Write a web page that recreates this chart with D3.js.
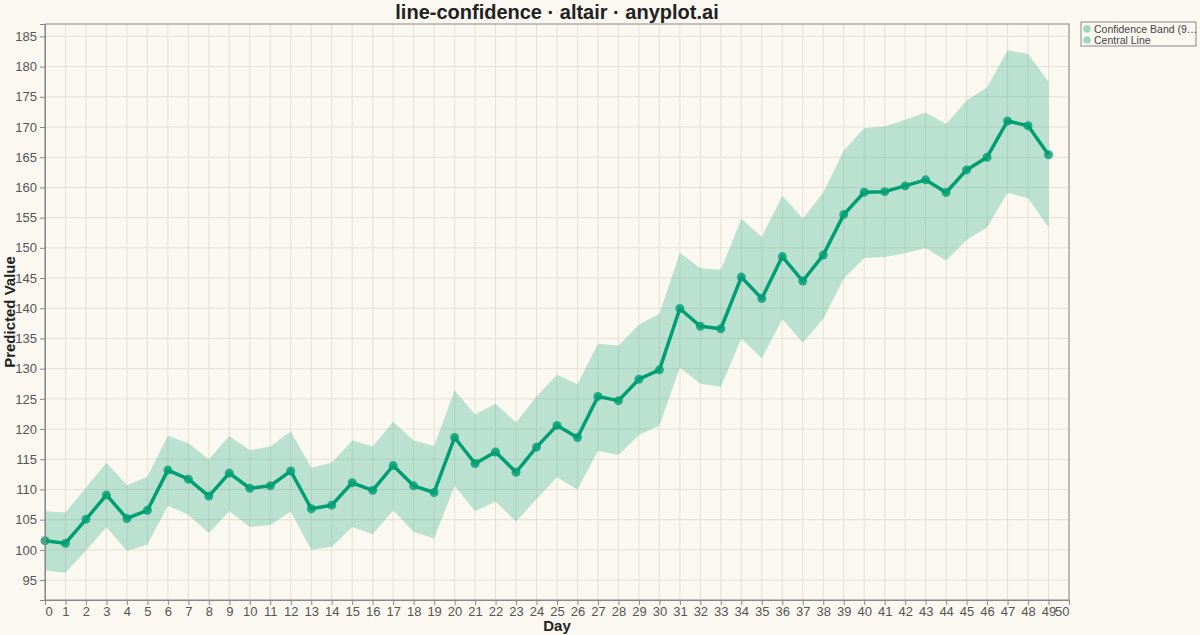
<!DOCTYPE html>
<html>
<head>
<meta charset="utf-8">
<script src="https://cdn.jsdelivr.net/npm/d3@7"></script>
<style>
  html, body { margin: 0; padding: 0; background: #faf8f1; }
  svg { display: block; font-family: "Liberation Sans", Arial, sans-serif; }
</style>
</head>
<body>
<svg id="chart" width="1200" height="635"></svg>
<script>
"use strict";

// data
const days = [0, 1, 2, 3, 4, 5, 6, 7, 8, 9, 10, 11, 12, 13, 14, 15, 16, 17, 18, 19,
              20, 21, 22, 23, 24, 25, 26, 27, 28, 29, 30, 31, 32, 33, 34, 35, 36, 37, 38, 39,
              40, 41, 42, 43, 44, 45, 46, 47, 48, 49];

const central = [101.5, 101.1, 105.05, 109.1, 105.2, 106.55, 113.2, 111.7, 108.9, 112.7,
                 110.2, 110.6, 113.05, 106.8, 107.4, 111.1, 109.85, 113.95, 110.6, 109.5,
                 118.6, 114.3, 116.2, 112.85, 117.0, 120.6, 118.6, 125.4, 124.7, 128.25,
                 129.8, 139.95, 137.0, 136.6, 145.15, 141.6, 148.55, 144.5, 148.8, 155.5,
                 159.2, 159.3, 160.25, 161.25, 159.15, 162.9, 165.0, 171.0, 170.2, 165.4];

const upper = [106.4, 106.2, 110.3, 114.4, 110.7, 112.1, 118.9, 117.65, 115.0, 118.85,
               116.5, 117.1, 119.6, 113.6, 114.4, 118.1, 117.1, 121.2, 118.1, 117.2,
               126.4, 122.4, 124.2, 121.1, 125.4, 129.0, 127.4, 134.1, 133.8, 137.25,
               139.1, 149.2, 146.6, 146.35, 154.8, 151.8, 158.6, 154.85, 159.1, 166.1,
               169.8, 170.1, 171.2, 172.4, 170.5, 174.4, 176.6, 182.7, 182.1, 177.5];

const lower = [96.6, 96.2, 99.9, 103.8, 99.8, 100.9, 107.3, 105.8, 102.8, 106.4,
               103.8, 104.1, 106.3, 100.0, 100.5, 103.8, 102.6, 106.5, 103.0, 101.9,
               110.6, 106.4, 108.0, 104.7, 108.4, 112.0, 110.0, 116.4, 115.7, 119.0,
               120.6, 130.2, 127.5, 127.0, 135.0, 131.7, 138.2, 134.3, 138.2, 144.9,
               148.3, 148.5, 149.1, 149.95, 147.9, 151.3, 153.4, 159.1, 158.2, 153.4];

const xTicks = [0, 1, 2, 3, 4, 5, 6, 7, 8, 9, 10, 11, 12, 13, 14, 15, 16, 17, 18, 19,
                20, 21, 22, 23, 24, 25, 26, 27, 28, 29, 30, 31, 32, 33, 34, 35, 36, 37, 38, 39,
                40, 41, 42, 43, 44, 45, 46, 47, 48, 49, 50];
const yTicks = [95, 100, 105, 110, 115, 120, 125, 130, 135, 140, 145, 150, 155, 160, 165, 170, 175, 180, 185];

const legendLabels = ["Confidence Band (9\u2026", "Central Line"];


// layout
const plotLeft = 45, plotRight = 1069, plotTop = 24, plotBottom = 600;
const green = "#009e73";
const axisGray = "#888888";
const gridGray = "#e4e0d6";

const svg = d3.select("#chart");

const x = d3.scaleLinear().domain([0, 50]).range([plotLeft, plotRight]);
const y = d3.scaleLinear().domain([91.7, 187.05]).range([plotBottom, plotTop]);

const rows = days.map((d, i) => ({ day: d, c: central[i], hi: upper[i], lo: lower[i] }));


    // grid

svg.append("g")
    .selectAll("line")
    .data(xTicks)
    .join("line")
        .attr("x1", d => x(d))
        .attr("x2", d => x(d))
        .attr("y1", plotTop)
        .attr("y2", plotBottom)
        .attr("stroke", gridGray)
        .attr("stroke-width", 1);

svg.append("g")
    .selectAll("line")
    .data(yTicks)
    .join("line")
        .attr("x1", plotLeft)
        .attr("x2", plotRight)
        .attr("y1", d => y(d))
        .attr("y2", d => y(d))
        .attr("stroke", gridGray)
        .attr("stroke-width", 1);


    // confidence band

svg.append("path")
    .datum(rows)
    .attr("d", d3.area()
        .x(d => x(d.day))
        .y0(d => y(d.lo))
        .y1(d => y(d.hi)))
    .attr("fill", green)
    .attr("fill-opacity", 0.25);


    // central line + points

svg.append("path")
    .datum(rows)
    .attr("d", d3.line()
        .x(d => x(d.day))
        .y(d => y(d.c)))
    .attr("fill", "none")
    .attr("stroke", green)
    .attr("stroke-width", 3.5)
    .attr("stroke-linejoin", "round");

svg.append("g")
    .selectAll("circle")
    .data(rows)
    .join("circle")
        .attr("cx", d => x(d.day))
        .attr("cy", d => y(d.c))
        .attr("r", 4.5)
        .attr("fill", green)
        .attr("fill-opacity", 0.8);


    // frame

svg.append("rect")
    .attr("x", plotLeft)
    .attr("y", plotTop)
    .attr("width", plotRight - plotLeft)
    .attr("height", plotBottom - plotTop)
    .attr("fill", "none")
    .attr("stroke", axisGray)
    .attr("stroke-width", 1);


    // x axis

const xAxis = svg.append("g")
    .attr("transform", `translate(0,${plotBottom})`)
    .call(d3.axisBottom(x).tickValues(xTicks).tickSize(5).tickPadding(2).tickFormat(d3.format("d")));

xAxis.select(".domain").attr("stroke", axisGray);
xAxis.selectAll(".tick line").attr("stroke", axisGray);
xAxis.selectAll(".tick text")
    .attr("fill", "#555")
    .attr("font-size", 13)
    .attr("font-family", "Liberation Sans, Arial, sans-serif")
    .attr("text-anchor", d => d === 0 ? "start" : (d === 50 ? "end" : "middle"));


    // y axis

const yAxis = svg.append("g")
    .attr("transform", `translate(${plotLeft},0)`)
    .call(d3.axisLeft(y).tickValues(yTicks).tickSize(5).tickPadding(3));

yAxis.select(".domain").attr("stroke", axisGray);
yAxis.selectAll(".tick line").attr("stroke", axisGray);
yAxis.selectAll(".tick text")
    .attr("fill", "#555")
    .attr("font-size", 13)
    .attr("font-family", "Liberation Sans, Arial, sans-serif");


    // titles

svg.append("text")
    .attr("x", (plotLeft + plotRight) / 2)
    .attr("y", 19)
    .attr("text-anchor", "middle")
    .attr("font-size", 20)
    .attr("font-weight", "bold")
    .attr("fill", "#222")
    .text("line-confidence \u00b7 altair \u00b7 anyplot.ai");

svg.append("text")
    .attr("x", (plotLeft + plotRight) / 2)
    .attr("y", 631)
    .attr("text-anchor", "middle")
    .attr("font-size", 15)
    .attr("font-weight", "bold")
    .attr("fill", "#222")
    .text("Day");

svg.append("text")
    .attr("transform", `translate(15,${(plotTop + plotBottom) / 2}) rotate(-90)`)
    .attr("text-anchor", "middle")
    .attr("font-size", 15)
    .attr("font-weight", "bold")
    .attr("fill", "#222")
    .text("Predicted Value");


    // legend

const legend = svg.append("g").attr("transform", "translate(1081,22)");

legend.append("rect")
    .attr("width", 115)
    .attr("height", 24)
    .attr("fill", "#faf8f1")
    .attr("stroke", axisGray)
    .attr("stroke-width", 1);

legend.selectAll("circle")
    .data(legendLabels)
    .join("circle")
        .attr("cx", 6)
        .attr("cy", (d, i) => 7 + i * 11)
        .attr("r", 3.8)
        .attr("fill", "#9fd8be");

legend.selectAll("text")
    .data(legendLabels)
    .join("text")
        .attr("x", 13)
        .attr("y", (d, i) => 11 + i * 11)
        .attr("font-size", 10.5)
        .attr("fill", "#444")
        .text(d => d);

</script>
</body>
</html>
